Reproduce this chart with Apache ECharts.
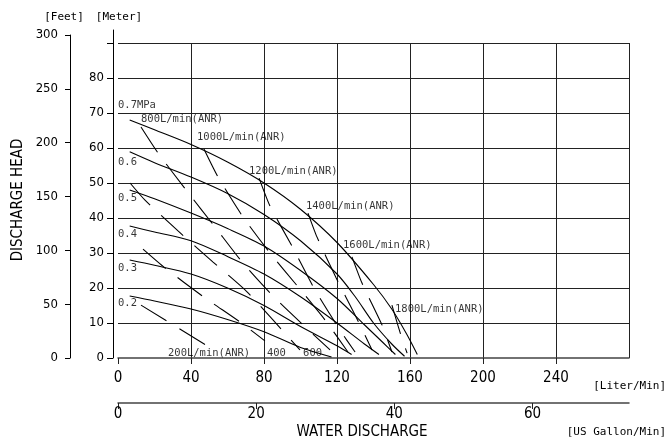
<!DOCTYPE html>
<html>
<head>
<meta charset="utf-8">
<script src="https://cdn.jsdelivr.net/npm/echarts@6/dist/echarts.min.js"></script>
<style>
  html, body { margin: 0; padding: 0; background: #fff; }
  #chart { width: 670px; height: 443px; }
</style>
</head>
<body>
<div id="chart"></div>
<script>
// axis ticks
const flowTicks = [0, 40, 80, 120, 160, 200, 240, 280];
const gallonTicks = [0, 20, 40, 60];
const meterTicks = [0, 10, 20, 30, 40, 50, 60, 70, 80, 90];
const meterLabels = [0, 10, 20, 30, 40, 50, 60, 70, 80];
const feetTicks = [0, 50, 100, 150, 200, 250, 300];

// discharge head curves per air pressure  [L/min, m]
const p07 = [[6.4, 68], [20, 65.2], [40, 61], [60, 56], [80, 50], [100, 42.5], [120, 33], [140, 21], [150, 14], [158, 7], [164, 1]];
const p06 = [[6.4, 58.9], [20, 55.8], [40, 51.7], [60, 47], [80, 41], [100, 33.5], [120, 24], [130, 17.5], [140, 10], [150, 4], [157, 0.5]];
const p05 = [[6.4, 48], [20, 45.5], [40, 41.4], [60, 37], [80, 32], [100, 25], [120, 17], [135, 9.5], [145, 4.5], [152, 1]];
const p04 = [[6.4, 37.7], [20, 36], [40, 33.5], [60, 29], [80, 24], [100, 17.5], [120, 10], [135, 4], [143, 1]];
const p03 = [[6.4, 28], [20, 26.5], [40, 24], [60, 20], [80, 15], [100, 9], [120, 3.5], [128, 1]];
const p02 = [[6.4, 17.7], [20, 16.3], [40, 14], [60, 11], [80, 7.5], [100, 3], [117, 0.3]];

// air consumption lines  [L/min, m]
const a200 = [[12.6, 15.1], [48.2, 3.7]];
const a400 = [[13.7, 31.1], [25.8, 25.7], [47.1, 17.4], [66.8, 10.3], [80.5, 4.9]];
const a600 = [[6.6, 50], [14.8, 45.1], [32.9, 36.3], [52.1, 27.4], [70.7, 18.9], [99.7, 2.3]];
const a800 = [[12.6, 66], [21.9, 58.6], [37.3, 48], [53.2, 37.4], [68.5, 27.1], [83.3, 18.6], [99.7, 10.3], [116.2, 2.3]];
const a1000 = [[47.1, 59.7], [54.8, 51.7], [68.5, 40.3], [83.3, 30], [99.2, 20], [113.4, 10.9], [126, 1.7]];
const a1200 = [[77.3, 51.4], [83.3, 43.4], [95.3, 32], [108, 19.4], [121.6, 8], [129.9, 1.7]];
const a1400 = [[104.1, 41.4], [109, 34.6], [119.5, 22.9], [129.9, 12.3], [139.2, 2.3]];
const a1600 = [[128.2, 28.9], [133.7, 21.4], [144.7, 9.4], [150.1, 1.7]];
const a1800 = [[150.1, 15.1], [154.5, 7.4], [158.4, 1.4]];

// in-plot labels  [L/min, m, text]
const pressureLabels = [[0, 72.3, '0.7MPa'], [0, 56, '0.6'], [0, 45.7, '0.5'], [0, 35.4, '0.4'], [0, 25.7, '0.3'], [0, 15.7, '0.2']];
const airLabels = [
  [12.6, 68.3, '800L/min(ANR)'], [43.3, 63.1, '1000L/min(ANR)'], [71.8, 53.4, '1200L/min(ANR)'],
  [103, 43.4, '1400L/min(ANR)'], [123.3, 32.3, '1600L/min(ANR)'], [151.8, 14, '1800L/min(ANR)'],
  [27.4, 1.4, '200L/min(ANR)'], [81.6, 1.4, '400'], [101.4, 1.4, '600']
];

const chart = echarts.init(document.getElementById('chart'));
const tickFont = 'Liberation Sans Narrow, DejaVu Sans Condensed, sans-serif';
const monoFont = 'DejaVu Sans Mono, Liberation Mono, monospace';

function curve(data) {
  return {
    type: 'line', data: data, smooth: 0.3, showSymbol: false, silent: true,
    xAxisIndex: 0, yAxisIndex: 0,
    lineStyle: {color: '#000', width: 1.1}
  };
}
function airLine(data) {
  return {
    type: 'line', data: data, smooth: 0.2, showSymbol: false, silent: true,
    xAxisIndex: 0, yAxisIndex: 0,
    lineStyle: {color: '#000', width: 1.1, type: [30, 15]}
  };
}
function labels(data) {
  return {
    type: 'scatter', data: data, symbolSize: 0, silent: true,
    xAxisIndex: 0, yAxisIndex: 0,
    label: {
      show: true, position: [0, 0], align: 'left', verticalAlign: 'middle',
      formatter: p => p.value[2], color: '#000', fontFamily: monoFont, fontSize: 10.5
    }
  };
}

const gridColors = ['transparent'].concat(meterTicks.slice(1).map(() => '#222'));
const vGridColors = ['transparent'].concat(flowTicks.slice(1).map(() => '#222'));

let option = {
  animation: false,
  backgroundColor: '#fff',
  grid: [
    {left: 118, top: 43, width: 511, height: 315},   // plot
    {left: 113, top: 30, width: 511, height: 328},   // meter axis
    {left: 70, top: 35, width: 40, height: 323},     // feet axis
    {left: 118, top: 380, width: 511, height: 23}    // gallon axis
  ],
  xAxis: [
    {
      gridIndex: 0, type: 'value', min: 0, max: 280, interval: 40, position: 'bottom', offset: 8,
      axisLine: {show: true, lineStyle: {color: '#444', width: 1.5}},
      axisTick: {show: true, length: 6, lineStyle: {color: '#222'}},
      axisLabel: {showMaxLabel: false, color: '#000', fontFamily: tickFont, fontSize: 15, margin: 5},
      splitLine: {show: true, lineStyle: {color: vGridColors, width: 1}}
    },
    {gridIndex: 1, type: 'value', show: false, min: 0, max: 1},
    {gridIndex: 2, type: 'value', show: false, min: 0, max: 1},
    {
      gridIndex: 3, type: 'value', min: 0, max: 280 / 3.7854, position: 'bottom',
      axisLine: {show: true, lineStyle: {color: '#444', width: 1.5}},
      axisTick: {show: true, length: 6, customValues: gallonTicks, lineStyle: {color: '#222'}},
      axisLabel: {customValues: gallonTicks, color: '#000', fontFamily: tickFont, fontSize: 15, margin: 4},
      splitLine: {show: false}
    }
  ],
  yAxis: [
    {
      gridIndex: 0, type: 'value', min: 0, max: 90, interval: 10,
      axisLine: {show: false}, axisTick: {show: false}, axisLabel: {show: false},
      splitLine: {show: true, lineStyle: {color: gridColors, width: 1}}
    },
    {
      gridIndex: 1, type: 'value', min: 0, max: 90 * 328 / 315,
      axisLine: {show: true, lineStyle: {color: '#000', width: 1}},
      axisTick: {show: true, length: 6, customValues: meterTicks, lineStyle: {color: '#000'}},
      axisLabel: {customValues: meterLabels, color: '#000', fontFamily: tickFont, fontSize: 13, margin: 9},
      splitLine: {show: false}
    },
    {
      gridIndex: 2, type: 'value', min: 0, max: 300, interval: 50,
      axisLine: {show: true, lineStyle: {color: '#000', width: 1}},
      axisTick: {show: true, length: 5, lineStyle: {color: '#000'}},
      axisLabel: {color: '#000', fontFamily: tickFont, fontSize: 13, margin: 12},
      splitLine: {show: false}
    },
    {gridIndex: 3, type: 'value', show: false, min: 0, max: 1}
  ],
  graphic: [
    {type: 'text', x: 64, y: 17, style: {text: '[Feet]', font: '11px ' + monoFont, fill: '#000', align: 'center', verticalAlign: 'middle'}},
    {type: 'text', x: 119, y: 17, style: {text: '[Meter]', font: '11px ' + monoFont, fill: '#000', align: 'center', verticalAlign: 'middle'}},
    {type: 'text', x: 18, y: 200, rotation: Math.PI / 2, style: {text: 'DISCHARGE HEAD', font: '15px ' + tickFont, fill: '#000', align: 'center', verticalAlign: 'middle'}},
    {type: 'text', x: 666, y: 386, style: {text: '[Liter/Min]', font: '11px ' + monoFont, fill: '#000', align: 'right', verticalAlign: 'middle'}},
    {type: 'text', x: 362, y: 432, style: {text: 'WATER DISCHARGE', font: '15px ' + tickFont, fill: '#000', align: 'center', verticalAlign: 'middle'}},
    {type: 'text', x: 666, y: 432, style: {text: '[US Gallon/Min]', font: '11px ' + monoFont, fill: '#000', align: 'right', verticalAlign: 'middle'}}
  ],
  series: [
    curve(p07), curve(p06), curve(p05), curve(p04), curve(p03), curve(p02),
    airLine(a200), airLine(a400), airLine(a600), airLine(a800), airLine(a1000),
    airLine(a1200), airLine(a1400), airLine(a1600), airLine(a1800),
    labels(pressureLabels), labels(airLabels)
  ]
};
chart.setOption(option);
</script>
</body>
</html>
